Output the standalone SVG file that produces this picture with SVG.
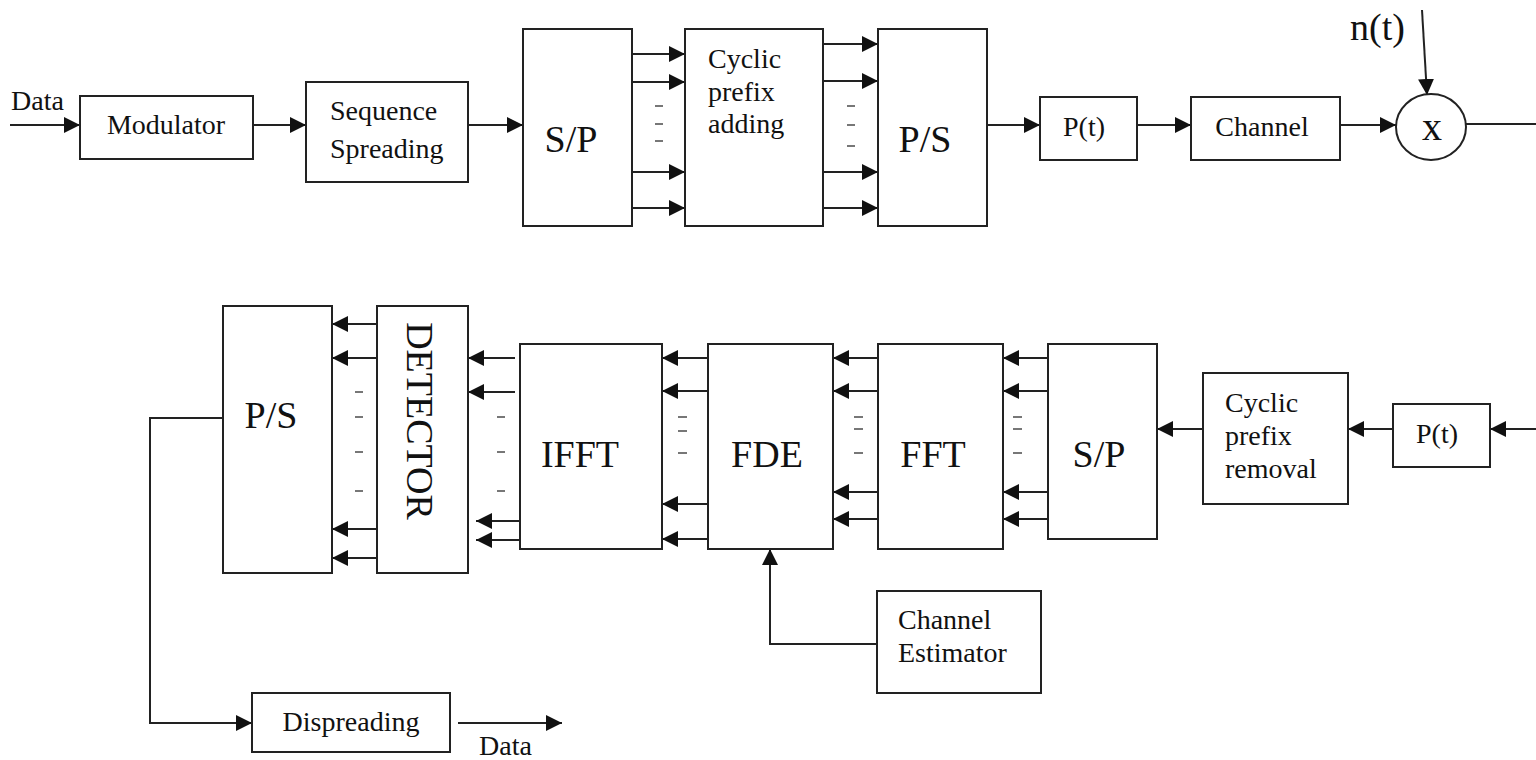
<svg xmlns="http://www.w3.org/2000/svg" width="1536" height="760" viewBox="0 0 1536 760">
<style>
.box{fill:#fff;stroke:#222;stroke-width:2}
.ln{fill:none;stroke:#222;stroke-width:2}
.arr{fill:none;stroke:#222;stroke-width:2;marker-end:url(#ah)}
.dash{stroke:#777;stroke-width:2}
.t{font-family:"Liberation Serif","Times New Roman",serif;font-size:28px;fill:#111}
.big{font-family:"Liberation Serif","Times New Roman",serif;font-size:38px;fill:#111}
.m{text-anchor:middle}
</style>
<defs>
<marker id="ah" markerUnits="userSpaceOnUse" markerWidth="16" markerHeight="16" refX="16" refY="8" orient="auto">
<path d="M0,0 L16,8 L0,16 z" fill="#111"/>
</marker>
</defs>
<rect width="1536" height="760" fill="#fff"/>

<g id="connectors">
<!-- top row -->
<line class="arr" x1="10" y1="125" x2="80" y2="125"/>
<line class="arr" x1="253" y1="125" x2="306" y2="125"/>
<line class="arr" x1="468" y1="125" x2="523" y2="125"/>
<line class="arr" x1="632" y1="54" x2="685" y2="54"/>
<line class="arr" x1="632" y1="82" x2="685" y2="82"/>
<line class="arr" x1="632" y1="172" x2="685" y2="172"/>
<line class="arr" x1="632" y1="208" x2="685" y2="208"/>
<line class="arr" x1="823" y1="44" x2="878" y2="44"/>
<line class="arr" x1="823" y1="81" x2="878" y2="81"/>
<line class="arr" x1="823" y1="172" x2="878" y2="172"/>
<line class="arr" x1="823" y1="208" x2="878" y2="208"/>
<line class="arr" x1="987" y1="125" x2="1040" y2="125"/>
<line class="arr" x1="1137" y1="125" x2="1191" y2="125"/>
<line class="arr" x1="1340" y1="125" x2="1396" y2="125"/>
<line class="arr" x1="1422" y1="10" x2="1427" y2="95"/>
<line class="ln" x1="1466" y1="124" x2="1536" y2="124"/>
<!-- bottom row -->
<line class="arr" x1="1536" y1="429" x2="1490" y2="429"/>
<line class="arr" x1="1393" y1="429" x2="1348" y2="429"/>
<line class="arr" x1="1203" y1="429" x2="1157" y2="429"/>
<line class="arr" x1="1048" y1="358" x2="1003" y2="358"/>
<line class="arr" x1="1048" y1="391" x2="1003" y2="391"/>
<line class="arr" x1="1048" y1="492" x2="1003" y2="492"/>
<line class="arr" x1="1048" y1="519" x2="1003" y2="519"/>
<line class="arr" x1="878" y1="358" x2="833" y2="358"/>
<line class="arr" x1="878" y1="391" x2="833" y2="391"/>
<line class="arr" x1="878" y1="492" x2="833" y2="492"/>
<line class="arr" x1="878" y1="519" x2="833" y2="519"/>
<line class="arr" x1="708" y1="358" x2="662" y2="358"/>
<line class="arr" x1="708" y1="391" x2="662" y2="391"/>
<line class="arr" x1="708" y1="504" x2="662" y2="504"/>
<line class="arr" x1="708" y1="539" x2="662" y2="539"/>
<line class="arr" x1="515" y1="358" x2="468" y2="358"/>
<line class="arr" x1="515" y1="392" x2="468" y2="392"/>
<line class="arr" x1="521" y1="521" x2="476" y2="521"/>
<line class="arr" x1="523" y1="540" x2="476" y2="540"/>
<line class="arr" x1="377" y1="324" x2="332" y2="324"/>
<line class="arr" x1="377" y1="358" x2="332" y2="358"/>
<line class="arr" x1="377" y1="529" x2="332" y2="529"/>
<line class="arr" x1="377" y1="558" x2="332" y2="558"/>
<polyline class="arr" points="223,418 150,418 150,723 252,723"/>
<line class="arr" x1="458" y1="723" x2="562" y2="723"/>
<polyline class="arr" points="877,644 770,644 770,549"/>
<!-- ellipsis dashes -->
<g class="dash">
<line x1="655" y1="106" x2="663" y2="106"/>
<line x1="655" y1="124" x2="663" y2="124"/>
<line x1="655" y1="141" x2="663" y2="141"/>
<line x1="847" y1="106" x2="855" y2="106"/>
<line x1="847" y1="125" x2="855" y2="125"/>
<line x1="847" y1="146" x2="855" y2="146"/>
<line x1="355" y1="392" x2="363" y2="392"/>
<line x1="355" y1="417" x2="363" y2="417"/>
<line x1="355" y1="452" x2="363" y2="452"/>
<line x1="355" y1="491" x2="363" y2="491"/>
<line x1="497" y1="417" x2="505" y2="417"/>
<line x1="497" y1="452" x2="505" y2="452"/>
<line x1="497" y1="491" x2="505" y2="491"/>
<line x1="678" y1="417" x2="687" y2="417"/>
<line x1="678" y1="431" x2="687" y2="431"/>
<line x1="678" y1="453" x2="687" y2="453"/>
<line x1="854" y1="417" x2="863" y2="417"/>
<line x1="854" y1="429" x2="863" y2="429"/>
<line x1="854" y1="453" x2="863" y2="453"/>
<line x1="1013" y1="417" x2="1022" y2="417"/>
<line x1="1013" y1="429" x2="1022" y2="429"/>
<line x1="1013" y1="453" x2="1022" y2="453"/>
</g>
</g>

<text class="t" x="11" y="110">Data</text>
<text class="big" x="1350" y="40">n(t)</text>
<text class="t" x="479" y="755">Data</text>

<g id="modulator"><rect class="box" x="80" y="96" width="173" height="63"/><text class="t m" x="166" y="134">Modulator</text></g>
<g id="spreading"><rect class="box" x="306" y="82" width="162" height="100"/><text class="t" x="330" y="120">Sequence</text><text class="t" x="330" y="158">Spreading</text></g>
<g id="sp-tx"><rect class="box" x="523" y="29" width="109" height="197"/><text class="big m" x="571" y="152">S/P</text></g>
<g id="cp-add"><rect class="box" x="685" y="29" width="138" height="197"/><text class="t" x="708" y="68">Cyclic</text><text class="t" x="708" y="101">prefix</text><text class="t" x="708" y="133">adding</text></g>
<g id="ps-tx"><rect class="box" x="878" y="29" width="109" height="197"/><text class="big m" x="925" y="152">P/S</text></g>
<g id="pt-tx"><rect class="box" x="1040" y="97" width="97" height="63"/><text class="t m" x="1084" y="136">P(t)</text></g>
<g id="channel"><rect class="box" x="1191" y="97" width="149" height="63"/><text class="t m" x="1262" y="136">Channel</text></g>
<g id="mixer"><ellipse class="box" cx="1431" cy="127" rx="35" ry="33"/><text class="m" x="1432" y="140" style="font-family:'Liberation Serif','Times New Roman',serif;font-size:40px;fill:#111">x</text></g>

<g id="pt-rx"><rect class="box" x="1393" y="404" width="97" height="63"/><text class="t m" x="1437" y="443">P(t)</text></g>
<g id="cp-remove"><rect class="box" x="1203" y="373" width="145" height="131"/><text class="t" x="1225" y="412">Cyclic</text><text class="t" x="1225" y="445">prefix</text><text class="t" x="1225" y="478">removal</text></g>
<g id="sp-rx"><rect class="box" x="1048" y="344" width="109" height="195"/><text class="big m" x="1099" y="467">S/P</text></g>
<g id="fft"><rect class="box" x="878" y="344" width="125" height="205"/><text class="big m" x="933" y="467">FFT</text></g>
<g id="fde"><rect class="box" x="708" y="344" width="125" height="205"/><text class="big m" x="767" y="467">FDE</text></g>
<g id="ifft"><rect class="box" x="520" y="344" width="142" height="205"/><text class="big m" x="580" y="467">IFFT</text></g>
<g id="detector"><rect class="box" x="377" y="306" width="91" height="267"/><text class="big m" transform="translate(407 421) rotate(90)">DETECTOR</text></g>
<g id="ps-rx"><rect class="box" x="223" y="306" width="109" height="267"/><text class="big m" x="271" y="428">P/S</text></g>
<g id="estimator"><rect class="box" x="877" y="591" width="164" height="102"/><text class="t" x="898" y="629">Channel</text><text class="t" x="898" y="662">Estimator</text></g>
<g id="dispreading"><rect class="box" x="252" y="693" width="198" height="59"/><text class="t m" x="351" y="731">Dispreading</text></g>
</svg>
